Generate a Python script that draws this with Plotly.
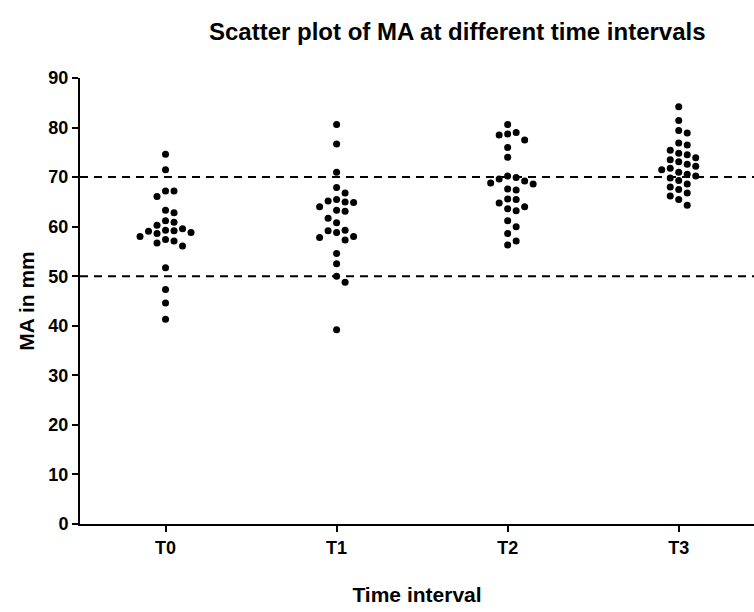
import plotly.graph_objects as go
import numpy as np

categories = ["T0", "T1", "T2", "T3"]
t0_values = [74.6, 71.5, 67.2, 67.2, 66.1, 63.3, 62.8, 61.2, 60.3, 60.9, 59.3, 59.1, 58.6,
             58.0, 58.8, 59.2, 59.6, 57.1, 56.1, 56.7, 57.4, 51.7, 47.3, 44.6, 41.3]
t1_values = [80.6, 76.7, 71.0, 67.9, 66.8, 65.0, 64.9, 65.2, 65.5, 63.3, 64.0, 63.1, 61.7,
             60.8, 59.3, 59.2, 58.0, 57.3, 57.8, 58.8, 54.6, 52.5, 50.0, 48.8, 39.2]
t2_values = [80.6, 79.0, 78.7, 78.5, 77.5, 76.0, 74.0, 70.2, 69.9, 69.6, 69.2, 68.8, 68.6,
             67.6, 67.4, 65.6, 65.5, 64.8, 64.0, 63.6, 63.2, 61.2, 60.0, 58.6, 57.1, 56.3]
t3_values = [84.2, 81.4, 79.4, 78.9, 76.9, 76.5, 75.4, 74.8, 74.5, 73.9, 73.5, 73.1, 72.6,
             72.2, 71.8, 71.5, 71.0, 70.6, 70.2, 69.8, 69.3, 68.6, 68.0, 67.5, 66.8, 66.2,
             65.5, 64.3]
groups = [t0_values, t1_values, t2_values, t3_values]
reference_lines = [50, 70]
y_ticks = [0, 10, 20, 30, 40, 50, 60, 70, 80, 90]

# plot geometry (px)
W, H = 754, 612
ML, MR, MT, MB = 80, 0, 78, 88
x_range = [-0.5, 3.44]
y_range = [0, 90]
px_per_x = (W - ML - MR) / (x_range[1] - x_range[0])
px_per_y = (H - MT - MB) / (y_range[1] - y_range[0])
step_px = 8.5
diam_px = 8.0


def beeswarm(values):
    order = np.argsort(values)[::-1]
    placed = []
    offsets = np.zeros(len(values))
    cands = [0]
    for k in range(1, 10):
        cands += [k, -k]
    for i in order:
        yv = values[i] * px_per_y
        for c in cands:
            xo = c * step_px
            ok = all((xo - px) ** 2 + (yv - py) ** 2 >= diam_px ** 2 for px, py in placed)
            if ok:
                placed.append((xo, yv))
                offsets[i] = xo / px_per_x
                break
    return offsets


fig = go.Figure()
for gi, vals in enumerate(groups):
    offs = beeswarm(vals)
    fig.add_trace(go.Scatter(
        x=gi + offs, y=vals, mode="markers",
        marker=dict(color="black", size=7, symbol="circle"),
        showlegend=False, hoverinfo="y"))

for v in reference_lines:
    fig.add_shape(type="line", xref="paper", x0=0, x1=1, yref="y", y0=v, y1=v,
                  line=dict(color="black", width=2, dash="8px,6px"), layer="below")

font_family = "Arial, Liberation Sans, sans-serif"
fig.update_layout(
    width=W, height=H,
    margin=dict(l=ML, r=MR, t=MT, b=MB),
    plot_bgcolor="white", paper_bgcolor="white",
    font=dict(family=font_family, color="black"),
    annotations=[
        dict(text="<b>Scatter plot of MA at different time intervals</b>",
             xref="paper", yref="paper", x=0.56, y=1, yshift=47, showarrow=False,
             xanchor="center", yanchor="middle", font=dict(size=24, family=font_family)),
    ],
)
fig.update_xaxes(
    range=x_range, tickmode="array", tickvals=list(range(len(categories))),
    ticktext=["<b>%s</b>" % c for c in categories],
    showline=True, linecolor="black", linewidth=2, ticks="outside", ticklen=6,
    tickwidth=2, tickcolor="black", showgrid=False, zeroline=False,
    tickfont=dict(size=18, family=font_family),
    title=dict(text="<b>Time interval</b>", font=dict(size=21, family=font_family), standoff=31),
)
fig.update_yaxes(
    range=y_range, tickmode="array", tickvals=y_ticks,
    ticktext=["<b>%d</b>" % t for t in y_ticks],
    showline=True, linecolor="black", linewidth=2, ticks="outside", ticklen=6,
    tickwidth=2, tickcolor="black", showgrid=False, zeroline=False,
    tickfont=dict(size=18, family=font_family),
    title=dict(text="<b>MA in mm</b>", font=dict(size=21, family=font_family), standoff=8),
)
fig.write_html("out.html")
